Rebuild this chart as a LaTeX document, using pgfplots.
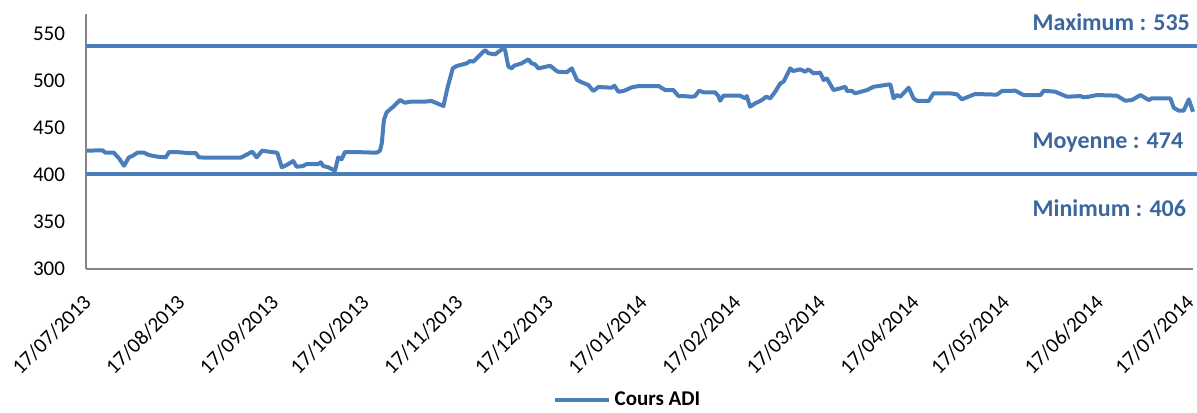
\documentclass[border=0pt]{standalone}
\usepackage{fontspec}
\setmainfont{Carlito}
\usepackage{pgfplots}
\usepackage{pgfplotstable}
\pgfplotsset{compat=1.18}

\definecolor{serie}{HTML}{4A7EBB}
\definecolor{etiq}{HTML}{3B679E}
\definecolor{axe}{HTML}{868686}

% jours depuis le 17/07/2013
\pgfplotstableread{
jour cours
0 425.9
5.1 426.3
6.2 423.7
8.9 423.7
10.6 417.8
12.3 409.9
13.9 418.8
15.0 420.2
16.7 423.7
18.9 423.7
20.5 421.3
23.3 419.5
26.1 418.8
27.2 424.4
29.9 424.4
33.2 423.4
36.0 423.4
37.1 418.8
39.8 418.4
50.9 418.4
54.7 424.8
56.2 418.8
58.0 425.9
60.3 424.8
63.0 423.7
64.5 408.2
66.1 410.6
68.3 414.9
69.4 408.8
71.6 409.6
72.7 411.7
76.6 411.7
77.4 413.5
78.2 409.6
79.9 408.2
82.1 404.6
83.2 418.8
84.3 416.7
85.4 424.4
89.3 424.4
95.9 423.7
97.0 425.9
97.6 433.7
98.3 458.5
99.2 466.7
101.4 472.7
103.6 479.8
105.3 476.9
107.0 478.0
111.4 478.0
114.1 478.7
118.0 473.4
119.3 492.2
120.2 502.9
121.1 513.5
122.4 516.0
125.7 518.8
126.8 521.3
127.9 520.6
130.1 527.7
131.8 533.0
132.9 529.5
135.1 528.4
137.8 534.8
138.4 533.0
139.5 515.3
140.6 513.5
141.4 516.3
143.9 518.8
146.1 523.0
147.2 518.8
148.3 517.8
149.4 513.5
151.1 514.6
153.3 516.3
155.5 510.6
156.0 509.9
158.8 509.3
160.5 513.5
162.2 501.1
163.8 498.6
166.0 495.7
167.6 489.4
169.3 493.6
173.7 492.9
174.6 495.0
175.9 488.6
177.6 489.4
180.4 493.3
182.6 494.7
189.2 494.7
191.4 490.4
194.1 490.4
195.8 484.0
197.4 484.0
200.2 483.3
201.3 484.0
202.6 489.7
204.1 488.0
207.9 488.0
209.0 484.0
209.6 479.0
210.7 484.4
216.2 484.4
217.9 481.6
218.4 484.0
219.5 472.7
221.2 476.3
222.8 478.7
223.9 480.9
224.8 483.3
226.2 481.6
227.8 488.6
229.5 497.5
230.6 499.3
232.8 513.5
233.7 510.6
236.1 512.4
237.7 509.9
238.8 512.4
240.5 508.2
242.7 508.9
243.8 501.1
244.9 502.9
247.1 490.4
249.3 492.2
251.0 493.9
251.6 489.4
253.2 489.4
254.3 486.9
258.2 490.4
260.4 493.9
265.9 496.5
267.0 481.6
268.1 485.1
269.2 483.3
272.0 492.9
273.6 481.6
274.7 479.0
278.6 478.7
280.2 486.9
285.8 486.9
288.0 485.8
289.6 480.5
294.0 486.2
301.2 485.5
302.9 489.4
307.3 489.7
310.0 485.1
315.6 485.1
316.7 489.7
320.5 488.6
324.4 483.3
328.8 484.0
329.9 482.7
331.6 483.3
334.3 485.1
340.9 484.4
343.7 479.0
345.9 479.8
348.7 485.1
351.4 479.8
352.5 481.6
358.6 481.6
359.7 471.6
361.4 468.4
363.0 468.4
364.7 480.5
366.1 467.3
}\cours

\begin{document}
\begin{tikzpicture}
% l'axe est posé avec son coin bas gauche en (0,0)
\useasboundingbox (-43pt,-71.5pt) rectangle (555.5pt,134.5pt);
\begin{axis}[
  width=553.5pt, height=127.5pt, scale only axis,
  xmin=-0.3, xmax=366.1, ymin=300, ymax=571.3,
  axis x line*=bottom, axis y line*=left,
  axis line style={axe, line width=0.75pt, -},
  xtick={0,31,62,92,123,153,184,215,243,274,304,335,365},
  xticklabels={17/07/2013,17/08/2013,17/09/2013,17/10/2013,17/11/2013,17/12/2013,
    17/01/2014,17/02/2014,17/03/2014,17/04/2014,17/05/2014,17/06/2014,17/07/2014},
  ytick={300,350,400,450,500,550},
  major tick length=0pt,
  tick label style={font=\fontsize{10.5}{12}\selectfont},
  /pgf/number format/assume math mode=true,
  yticklabel style={xshift=-7pt},
  xticklabel style={yshift=-9pt, xshift=-2.5pt, rotate=45, anchor=north east, inner sep=2pt},
  legend style={at={(0.49,-0.514)}, anchor=center, draw=none,
    font=\bfseries\fontsize{10.5}{12}\selectfont},
  legend image code/.code={\draw[#1, line width=2pt] (0pt,0pt) -- (27pt,0pt);},
  clip=false,
]
\addplot[serie, line width=2pt, forget plot] coordinates {(-0.3,536.8) (367.5,536.8)};
\addplot[serie, line width=2pt, forget plot] coordinates {(-0.3,401.5) (367.5,401.5)};
\addplot[serie, line width=2pt, line join=round] table[x=jour, y=cours] {\cours};
\addlegendentry{Cours ADI}

\node[anchor=west, inner sep=0pt, text=etiq, font=\bfseries\fontsize{12}{14}\selectfont]
  at (axis cs:312.9,562.8) {Maximum : 535};
\node[anchor=west, inner sep=0pt, text=etiq, font=\bfseries\fontsize{12}{14}\selectfont]
  at (axis cs:312.9,434) {Moyenne : 474};
\node[anchor=west, inner sep=0pt, text=etiq, font=\bfseries\fontsize{12}{14}\selectfont]
  at (axis cs:312.9,364.9) {Minimum : 406};
\end{axis}
\end{tikzpicture}
\end{document}
